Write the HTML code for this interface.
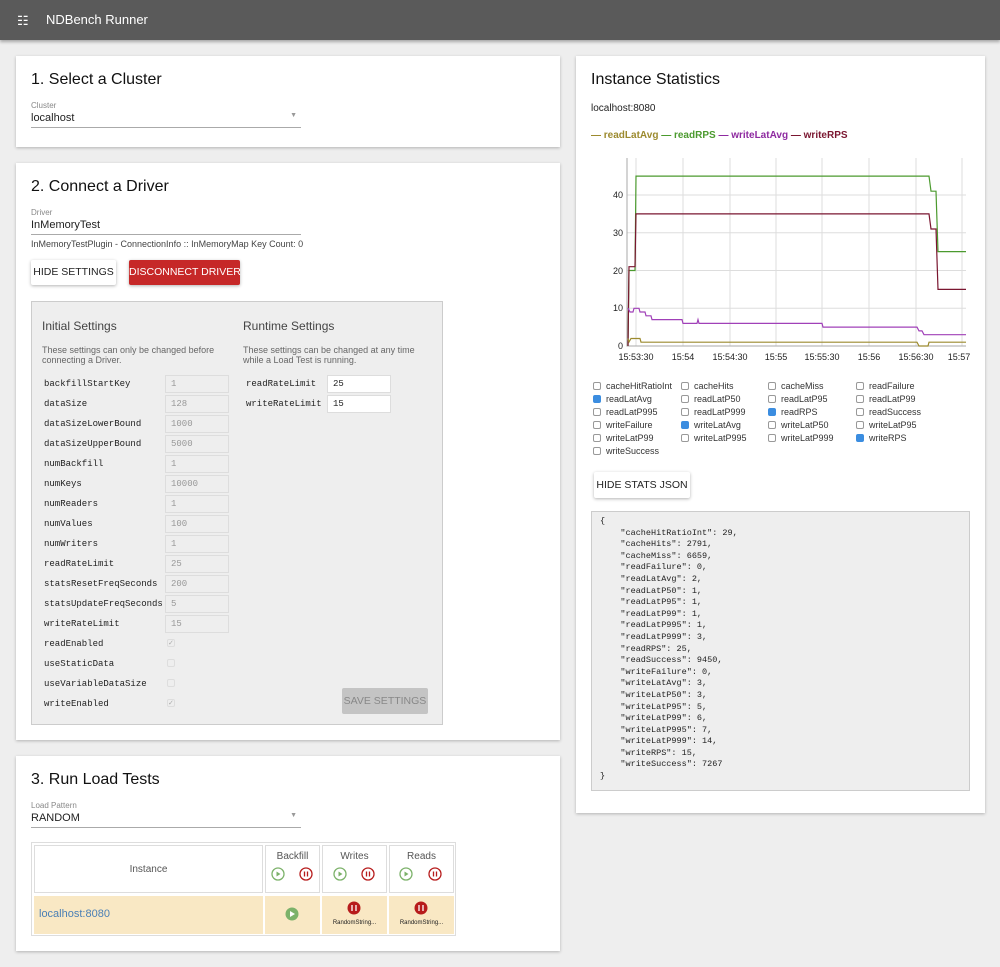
<!DOCTYPE html>
<html><head><meta charset="utf-8"><style>
*{box-sizing:border-box;margin:0;padding:0}
body{width:1000px;height:967px;background:#eeeeee;font-family:"Liberation Sans",sans-serif;color:#222;position:relative;overflow:hidden}
.a{position:absolute}
.card{position:absolute;background:#fff;box-shadow:0 1px 3px rgba(0,0,0,.25)}
.h{font-size:16px;color:#111}
.lbl{font-size:8px;color:#888}
.sel{font-size:11px;border-bottom:1px solid #aaa}
.btn{position:absolute;font-size:10.5px;text-align:center;white-space:nowrap;box-shadow:0 1px 3px rgba(0,0,0,.3);border-radius:2px}
.sl{position:absolute;left:44px;font-size:9px;font-family:"Liberation Mono",monospace;color:#222}
.si{position:absolute;left:165px;width:64px;height:18px;border:1px solid #ddd;font-size:9px;color:#999;padding:3px 0 0 5px;font-family:"Liberation Mono",monospace}
.cb{position:absolute;width:8px;height:8px;border:1px solid #ddd;border-radius:2px;left:167px}
.ck{position:absolute;font-size:9px;color:#333}
.ck i{display:inline-block;width:8px;height:8px;border:1px solid #999;border-radius:2px;margin-right:5px;vertical-align:-1px}
.ck i.on{background:#3b8de0;border-color:#3b8de0}
</style></head><body>
<div class="a" style="left:0;top:0;width:1000px;height:40px;background:#5a5a5a;box-shadow:0 2px 3px rgba(0,0,0,.3)"></div>
<div class="a" style="left:17px;top:13px;color:#fff;font-size:13px">☷</div>
<div class="a" style="left:46px;top:12px;color:#fff;font-size:13px">NDBench Runner</div>

<div class="card" style="left:16px;top:56px;width:544px;height:91px">
 <div class="a h" style="left:15px;top:15px">1. Select a Cluster</div>
 <div class="a lbl" style="left:15px;top:45px">Cluster</div>
 <div class="a sel" style="left:15px;top:56px;width:270px;height:16px">localhost<span style="float:right;color:#999;font-size:7px;margin-right:4px">▼</span></div>
</div>

<div class="card" style="left:16px;top:163px;width:544px;height:577px">
 <div class="a h" style="left:15px;top:15px">2. Connect a Driver</div>
 <div class="a lbl" style="left:15px;top:45px">Driver</div>
 <div class="a sel" style="left:15px;top:56px;width:270px;height:16px">InMemoryTest</div>
 <div class="a" style="left:15px;top:76px;font-size:9px;color:#444">InMemoryTestPlugin - ConnectionInfo :: InMemoryMap Key Count: 0</div>
 <div class="btn" style="left:15px;top:97px;width:85px;height:25px;padding-top:6px;background:#fff">HIDE SETTINGS</div>
 <div class="btn" style="left:113px;top:97px;width:111px;height:25px;padding-top:6px;background:#c62828;color:#fff">DISCONNECT DRIVER</div>
</div>

<div class="a" style="left:31px;top:301px;width:412px;height:424px;background:#eeeeee;border:1px solid #ccc"></div>
<div class="a" style="left:42px;top:319px;font-size:12px;color:#444">Initial Settings</div>
<div class="a" style="left:243px;top:319px;font-size:12px;color:#444">Runtime Settings</div>
<div class="a" style="left:42px;top:345px;font-size:9px;color:#666;line-height:10px;width:190px">These settings can only be changed before connecting a Driver.</div>
<div class="a" style="left:243px;top:345px;font-size:9px;color:#666;line-height:10px;width:190px">These settings can be changed at any time while a Load Test is running.</div>

<div class="sl" style="top:379px">backfillStartKey</div><div class="si" style="top:375px">1</div>
<div class="sl" style="top:399px">dataSize</div><div class="si" style="top:395px">128</div>
<div class="sl" style="top:419px">dataSizeLowerBound</div><div class="si" style="top:415px">1000</div>
<div class="sl" style="top:439px">dataSizeUpperBound</div><div class="si" style="top:435px">5000</div>
<div class="sl" style="top:459px">numBackfill</div><div class="si" style="top:455px">1</div>
<div class="sl" style="top:479px">numKeys</div><div class="si" style="top:475px">10000</div>
<div class="sl" style="top:499px">numReaders</div><div class="si" style="top:495px">1</div>
<div class="sl" style="top:519px">numValues</div><div class="si" style="top:515px">100</div>
<div class="sl" style="top:539px">numWriters</div><div class="si" style="top:535px">1</div>
<div class="sl" style="top:559px">readRateLimit</div><div class="si" style="top:555px">25</div>
<div class="sl" style="top:579px">statsResetFreqSeconds</div><div class="si" style="top:575px">200</div>
<div class="sl" style="top:599px">statsUpdateFreqSeconds</div><div class="si" style="top:595px">5</div>
<div class="sl" style="top:619px">writeRateLimit</div><div class="si" style="top:615px">15</div>
<div class="sl" style="top:639px">readEnabled</div><div class="cb" style="top:639px;font-size:7px;color:#aaa;line-height:7px">✓</div>
<div class="sl" style="top:659px">useStaticData</div><div class="cb" style="top:659px"></div>
<div class="sl" style="top:679px">useVariableDataSize</div><div class="cb" style="top:679px"></div>
<div class="sl" style="top:699px">writeEnabled</div><div class="cb" style="top:699px;font-size:7px;color:#aaa;line-height:7px">✓</div>
<div class="sl" style="left:246px;top:379px">readRateLimit</div><div class="si" style="left:327px;top:375px;background:#fff;color:#222">25</div>
<div class="sl" style="left:246px;top:399px">writeRateLimit</div><div class="si" style="left:327px;top:395px;background:#fff;color:#222">15</div>
<div class="btn" style="left:342px;top:688px;width:86px;height:26px;padding-top:7px;background:#c4c4c4;color:#888;box-shadow:none">SAVE SETTINGS</div>

<div class="card" style="left:16px;top:756px;width:544px;height:195px">
 <div class="a h" style="left:15px;top:15px">3. Run Load Tests</div>
 <div class="a lbl" style="left:15px;top:45px">Load Pattern</div>
 <div class="a sel" style="left:15px;top:56px;width:270px;height:16px">RANDOM<span style="float:right;color:#999;font-size:7px;margin-right:4px">▼</span></div>
</div>
<div class="a" style="left:31px;top:842px;width:425px;height:94px;border:1px solid #ddd;background:#fff"></div>
<div class="a" style="left:34px;top:845px;width:229px;height:48px;border:1px solid #ddd;font-size:10px;color:#555;text-align:center;padding-top:18px">Instance</div>
<div class="a" style="left:265px;top:845px;width:55px;height:48px;border:1px solid #ddd;font-size:10px;color:#555;text-align:center;padding-top:5px">Backfill</div>
<div class="a" style="left:322px;top:845px;width:65px;height:48px;border:1px solid #ddd;font-size:10px;color:#555;text-align:center;padding-top:5px">Writes</div>
<div class="a" style="left:389px;top:845px;width:65px;height:48px;border:1px solid #ddd;font-size:10px;color:#555;text-align:center;padding-top:5px">Reads</div>
<svg class="a" style="left:0;top:0" width="1000" height="967">
 <g fill="none" stroke-width="1.3">
  <circle cx="278" cy="874" r="6" stroke="#7cb26a"/><circle cx="306" cy="874" r="6" stroke="#b71c1c"/>
  <circle cx="340" cy="874" r="6" stroke="#7cb26a"/><circle cx="368" cy="874" r="6" stroke="#b71c1c"/>
  <circle cx="406" cy="874" r="6" stroke="#7cb26a"/><circle cx="435" cy="874" r="6" stroke="#b71c1c"/>
 </g>
 <g fill="none" stroke-width="1.3">
  <path d="M276.5,871.5L280.5,874L276.5,876.5Z" fill="#7cb26a" stroke="none"/><path d="M304.5,871.5v5M307.5,871.5v5" stroke="#b71c1c"/>
  <path d="M338.5,871.5L342.5,874L338.5,876.5Z" fill="#7cb26a" stroke="none"/><path d="M366.5,871.5v5M369.5,871.5v5" stroke="#b71c1c"/>
  <path d="M404.5,871.5L408.5,874L404.5,876.5Z" fill="#7cb26a" stroke="none"/><path d="M433.5,871.5v5M436.5,871.5v5" stroke="#b71c1c"/>
 </g>
</svg>
<div class="a" style="left:34px;top:896px;width:229px;height:38px;background:#f9e8c4;font-size:11px;color:#4a7fb5;padding:12px 0 0 5px">localhost:8080</div>
<div class="a" style="left:265px;top:896px;width:55px;height:38px;background:#f9e8c4"></div>
<div class="a" style="left:322px;top:896px;width:65px;height:38px;background:#f9e8c4;font-size:6px;text-align:center;padding-top:24px">RandomString...</div>
<div class="a" style="left:389px;top:896px;width:65px;height:38px;background:#f9e8c4;font-size:6px;text-align:center;padding-top:24px">RandomString...</div>
<svg class="a" style="left:0;top:0" width="1000" height="967">
 <circle cx="292" cy="914" r="6.5" fill="#7cb26a"/><path d="M290,911 L295,914 L290,917Z" fill="#fff"/>
 <circle cx="354" cy="908" r="6.5" fill="#b71c1c"/><path d="M352,905v6M356,905v6" stroke="#fff" stroke-width="1.3"/>
 <circle cx="421" cy="908" r="6.5" fill="#b71c1c"/><path d="M419,905v6M423,905v6" stroke="#fff" stroke-width="1.3"/>
</svg>

<div class="card" style="left:576px;top:56px;width:409px;height:757px">
 <div class="a h" style="left:15px;top:15px">Instance Statistics</div>
 <div class="a" style="left:15px;top:47px;font-size:10px">localhost:8080</div>
 <div class="a" style="left:15px;top:74px;font-size:10px;font-weight:bold"><span style="color:#9c8a2e">— readLatAvg</span> <span style="color:#4b9a2e">— readRPS</span> <span style="color:#8e2aa0">— writeLatAvg</span> <span style="color:#7a1630">— writeRPS</span></div>
</div>
<svg class="a" style="left:0;top:0" width="1000" height="967" font-family="Liberation Sans" font-size="9" fill="#222">
 <g stroke="#ddd" stroke-width="1">
  <path d="M627,308.3H966M627,270.5H966M627,232.8H966M627,195H966"/>
  <path d="M636,158V346M683,158V346M730,158V346M776,158V346M822,158V346M869,158V346M916,158V346M962,158V346"/>
 </g>
 <path d="M627,158V346H966" stroke="#aaa" fill="none"/>
 <g text-anchor="end"><text x="623" y="349">0</text><text x="623" y="311">10</text><text x="623" y="274">20</text><text x="623" y="236">30</text><text x="623" y="198">40</text></g>
 <g text-anchor="middle"><text x="636" y="360">15:53:30</text><text x="683" y="360">15:54</text><text x="730" y="360">15:54:30</text><text x="776" y="360">15:55</text><text x="822" y="360">15:55:30</text><text x="869" y="360">15:56</text><text x="916" y="360">15:56:30</text><text x="959" y="360">15:57</text></g>
 <g fill="none" stroke-width="1.2">
  <path stroke="#4b9a2e" d="M628,346 L629,270.5 L635,270.5 L636,176.1 L929,176.1 L931,191.2 L936,191.2 L938,251.6 L966,251.6"/>
  <path stroke="#7a1630" d="M628,346 L629,266.7 L635,266.7 L636,213.9 L929,213.9 L931,229 L936,229 L938,289.4 L966,289.4"/>
  <path stroke="#a040b8" d="M628,308 L630,312 L633,312 L634,308.3 L639,308.3 L640,312 L645,312 L646,315.8 L651,315.8 L652,319.6 L682,319.6 L683,323.4 L697,323.4 L698,319.6 L699,323.4 L822,323.4 L823,327.1 L917,327.1 L919,330.9 L922,330.9 L924,334.7 L966,334.7"/>
  <path stroke="#9c8a2e" d="M628,338.5 L629,342 L631,338.5 L640,338.5 L641,342.2 L917,342.2 L919,346 L928,346 L929,342.2 L966,342.2"/>
 </g>
</svg>
<div class="ck" style="left:593px;top:381px"><i></i>cacheHitRatioInt</div>
<div class="ck" style="left:681px;top:381px"><i></i>cacheHits</div>
<div class="ck" style="left:768px;top:381px"><i></i>cacheMiss</div>
<div class="ck" style="left:856px;top:381px"><i></i>readFailure</div>
<div class="ck" style="left:593px;top:394px"><i class="on"></i>readLatAvg</div>
<div class="ck" style="left:681px;top:394px"><i></i>readLatP50</div>
<div class="ck" style="left:768px;top:394px"><i></i>readLatP95</div>
<div class="ck" style="left:856px;top:394px"><i></i>readLatP99</div>
<div class="ck" style="left:593px;top:407px"><i></i>readLatP995</div>
<div class="ck" style="left:681px;top:407px"><i></i>readLatP999</div>
<div class="ck" style="left:768px;top:407px"><i class="on"></i>readRPS</div>
<div class="ck" style="left:856px;top:407px"><i></i>readSuccess</div>
<div class="ck" style="left:593px;top:420px"><i></i>writeFailure</div>
<div class="ck" style="left:681px;top:420px"><i class="on"></i>writeLatAvg</div>
<div class="ck" style="left:768px;top:420px"><i></i>writeLatP50</div>
<div class="ck" style="left:856px;top:420px"><i></i>writeLatP95</div>
<div class="ck" style="left:593px;top:433px"><i></i>writeLatP99</div>
<div class="ck" style="left:681px;top:433px"><i></i>writeLatP995</div>
<div class="ck" style="left:768px;top:433px"><i></i>writeLatP999</div>
<div class="ck" style="left:856px;top:433px"><i class="on"></i>writeRPS</div>
<div class="ck" style="left:593px;top:446px"><i></i>writeSuccess</div>
<div class="btn" style="left:594px;top:472px;width:96px;height:26px;padding-top:7px;background:#fff">HIDE STATS JSON</div>
<div class="a" style="left:591px;top:511px;width:379px;height:280px;background:#eeeeee;border:1px solid #ccc"></div>
<pre class="a" style="left:600px;top:516px;font-family:'Liberation Mono',monospace;font-size:8.5px;line-height:11.6px;color:#222">{
    "cacheHitRatioInt": 29,
    "cacheHits": 2791,
    "cacheMiss": 6659,
    "readFailure": 0,
    "readLatAvg": 2,
    "readLatP50": 1,
    "readLatP95": 1,
    "readLatP99": 1,
    "readLatP995": 1,
    "readLatP999": 3,
    "readRPS": 25,
    "readSuccess": 9450,
    "writeFailure": 0,
    "writeLatAvg": 3,
    "writeLatP50": 3,
    "writeLatP95": 5,
    "writeLatP99": 6,
    "writeLatP995": 7,
    "writeLatP999": 14,
    "writeRPS": 15,
    "writeSuccess": 7267
}</pre>
</body></html>
